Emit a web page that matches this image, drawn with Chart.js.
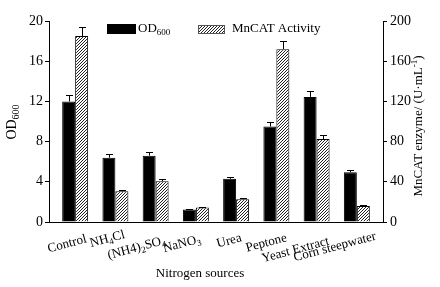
<!DOCTYPE html>
<html>
<head>
<meta charset="utf-8">
<script src="https://cdn.jsdelivr.net/npm/chart.js@4.4.1/dist/chart.umd.min.js"></script>
<style>
  html, body { margin: 0; padding: 0; background: #fff; }
  #wrap { width: 440px; height: 287px; position: relative; }
</style>
</head>
<body>
<div id="wrap"><canvas id="chart"></canvas></div>
<script>
// data (_{..} = subscript, ^{..} = superscript)
const categories = ["Control", "NH_{4}Cl", "(NH4)_{2}SO_{4}", "NaNO_{3}", "Urea", "Peptone", "Yeast Extract", "Corn steepwater"];
const od600 = [12.0, 6.4, 6.6, 1.25, 4.3, 9.5, 12.45, 4.95];
const od600Err = [0.6, 0.4, 0.35, 0.08, 0.18, 0.5, 0.6, 0.22];
const mncat = [185, 30.5, 40.5, 14.5, 22.6, 172, 82.5, 16];
const mncatErr = [9.5, 1.5, 2, 0.7, 0.8, 8, 3.8, 1.2];
const odTicks = [0, 4, 8, 12, 16, 20];
const mncatTicks = [0, 40, 80, 120, 160, 200];

const FONT = "'Liberation Serif', 'Times New Roman', serif";

// label placement tweaks (offset from category centre / axis bottom)
const labelDx = [-8, -8, -19, -14, -7, -10, -21, -22];
const labelDy = [22, 17, 26, 22, 19, 21, 28, 25];

function plain(s) {
  return s.replace(/[_^]\{([^}]*)\}/g, "$1");
}

function parts(s) {
  const out = [];
  const re = /([_^])\{([^}]*)\}|([^_^]+)/g;
  let m;
  while ((m = re.exec(s))) {
    if (m[3]) out.push([m[3], null]);
    else out.push([m[2], m[1] === "_" ? "sub" : "sup"]);
  }
  return out;
}

// draws text with sub/superscripts, baseline middle
function drawRich(ctx, s, x, y, size, align) {
  const ps = parts(s);
  const small = Math.round(size * 0.68);
  let w = 0;
  ps.forEach(([t, k]) => {
    ctx.font = (k ? small : size) + "px " + FONT;
    w += ctx.measureText(t).width;
  });
  let cx = align === "center" ? x - w / 2 : align === "right" ? x - w : x;
  ctx.textAlign = "left";
  ctx.textBaseline = "middle";
  ps.forEach(([t, k]) => {
    ctx.font = (k ? small : size) + "px " + FONT;
    const dy = k === "sub" ? size * 0.3 : k === "sup" ? -size * 0.3 : 0;
    ctx.fillText(t, cx, y + dy);
    cx += ctx.measureText(t).width;
  });
}

const ctx = document.getElementById("chart").getContext("2d");

// fine diagonal hatching, 3px pitch
function hatch() {
  const c = document.createElement("canvas");
  c.width = 3; c.height = 3;
  const g = c.getContext("2d");
  g.fillStyle = "#fff";
  g.fillRect(0, 0, 3, 3);
  g.fillStyle = "#222";
  g.fillRect(0, 2, 1, 1);
  g.fillRect(1, 1, 1, 1);
  g.fillRect(2, 0, 1, 1);
  return ctx.createPattern(c, "repeat");
}
const hatchFill = hatch();

const decor = {
  id: "decor",
  afterDatasetsDraw(chart) {
    const c = chart.ctx;
    c.save();
    c.strokeStyle = "#000";
    c.lineWidth = 1;
    chart.data.datasets.forEach((ds, di) => {
      const ys = chart.scales[ds.yAxisID];
      chart.getDatasetMeta(di).data.forEach((bar, i) => {
        const x = Math.round(bar.x) + 0.5;
        const top = Math.round(ys.getPixelForValue(ds.data[i].y + ds.err[i])) + 0.5;
        c.beginPath();
        c.moveTo(x, bar.y);
        c.lineTo(x, top);
        c.moveTo(x - 3.5, top);
        c.lineTo(x + 3.5, top);
        c.stroke();
      });
    });
    c.restore();
  },
  afterDraw(chart) {
    const c = chart.ctx;
    const a = chart.chartArea;
    const xs = chart.scales.x;
    c.save();
    c.fillStyle = "#000";

    // category labels
    categories.forEach((lab, i) => {
      c.save();
      c.translate(xs.getPixelForValue(i) + labelDx[i], a.bottom + labelDy[i]);
      c.rotate(-15 * Math.PI / 180);
      drawRich(c, lab, 0, 0, 13, "center");
      c.restore();
    });

    // axis titles
    drawRich(c, "Nitrogen sources", 200, 274, 13, "center");
    c.save();
    c.translate(12.5, 122);
    c.rotate(-Math.PI / 2);
    drawRich(c, "OD_{600}", 0, 0, 14, "center");
    c.restore();
    c.save();
    c.translate(419, 126);
    c.rotate(-Math.PI / 2);
    drawRich(c, "MnCAT enzyme/ (U·mL^{-1})", 0, 0, 13, "center");
    c.restore();

    // legend
    c.fillStyle = "#000";
    c.fillRect(107, 24, 29, 10);
    drawRich(c, "OD_{600}", 138, 29, 13, "left");
    c.fillStyle = hatchFill;
    c.fillRect(198, 25, 27, 9);
    c.strokeStyle = "#555";
    c.lineWidth = 1;
    c.strokeRect(198.5, 25.5, 26, 8);
    c.fillStyle = "#000";
    drawRich(c, "MnCAT Activity", 232, 29, 13, "left");
    c.restore();
  }
};

new Chart(ctx, {
  type: "bar",
  data: {
    labels: categories.map(plain),
    datasets: [
      {
        label: "OD600",
        data: od600.map((v, i) => ({ x: i, y: v })),
        err: od600Err,
        yAxisID: "y",
        backgroundColor: "#000",
        borderColor: "#000",
        borderWidth: 1,
      },
      {
        label: "MnCAT Activity",
        data: mncat.map((v, i) => ({ x: i, y: v })),
        err: mncatErr,
        yAxisID: "y2",
        backgroundColor: hatchFill,
        borderColor: "#000",
        borderWidth: 1,
      },
    ],
  },
  options: {
    responsive: true,
    maintainAspectRatio: false,
    animation: false,
    layout: { padding: { top: 21, left: 0, right: 0, bottom: 0 } },
    datasets: { bar: { categoryPercentage: 0.645, barPercentage: 1 } },
    plugins: {
      legend: { display: false },
      tooltip: { enabled: false },
    },
    scales: {
      x: {
        type: "linear",
        min: -0.65,
        max: 7.65,
        offset: false,
        grid: { display: false },
        border: { display: true, color: "#000", width: 1 },
        ticks: { display: false },
        afterFit: (s) => { s.height = 65; },
      },
      y: {
        position: "left",
        min: 0,
        max: 20,
        afterBuildTicks: (s) => { s.ticks = odTicks.map((v) => ({ value: v })); },
        grid: { drawOnChartArea: false, drawTicks: true, tickLength: 4, color: "#000" },
        border: { display: true, color: "#000", width: 1 },
        ticks: { color: "#000", padding: 2, font: { family: FONT, size: 14 } },
        afterFit: (s) => { s.width = 49; },
      },
      y2: {
        position: "right",
        min: 0,
        max: 200,
        afterBuildTicks: (s) => { s.ticks = mncatTicks.map((v) => ({ value: v })); },
        grid: { drawOnChartArea: false, drawTicks: true, tickLength: 4, color: "#000" },
        border: { display: true, color: "#000", width: 1 },
        ticks: { color: "#000", padding: 3, font: { family: FONT, size: 14 } },
        afterFit: (s) => { s.width = 57; },
      },
    },
  },
  plugins: [decor],
});
</script>
</body>
</html>
